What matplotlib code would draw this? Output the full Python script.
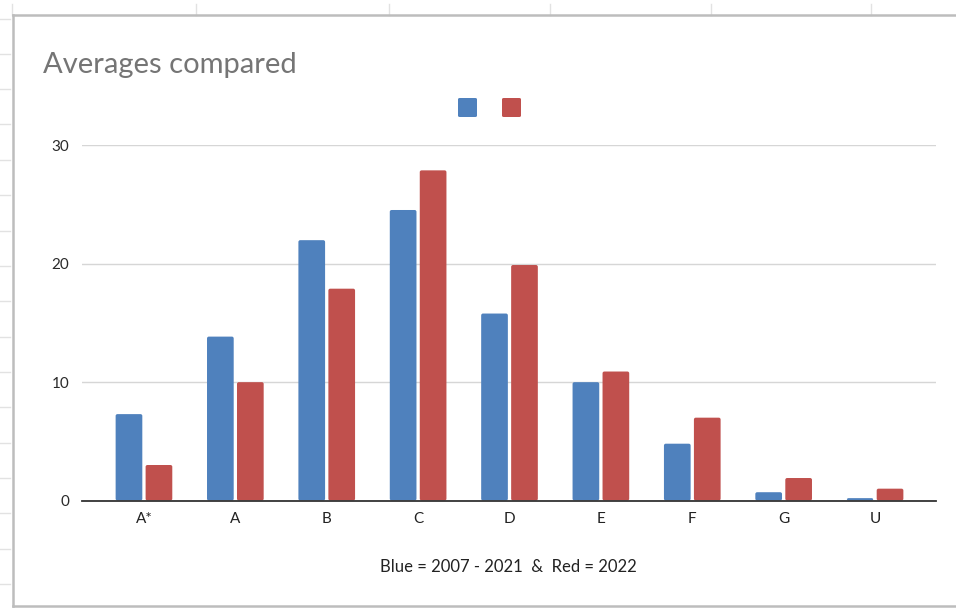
import matplotlib
matplotlib.use("Agg")
import matplotlib.pyplot as plt
from matplotlib.lines import Line2D
from matplotlib.patches import FancyBboxPatch
import numpy as np

# Grade distribution averages
grades = ["A*", "A", "B", "C", "D", "E", "F", "G", "U"]
avg_2007_2021 = [7.3, 13.85, 22.0, 24.55, 15.8, 10.0, 4.8, 0.7, 0.2]
avg_2022 = [3.0, 10.0, 17.9, 27.9, 19.9, 10.9, 7.0, 1.9, 1.0]
y_ticks = [0, 10, 20, 30]

title = "Averages compared"
axis_note = "Blue = 2007 - 2021  &  Red = 2022"

BLUE = "#4F81BD"
RED = "#C0504D"
FONT = ["Lato", "DejaVu Sans"]

W, H = 956, 608
fig = plt.figure(figsize=(W / 100, H / 100), dpi=100)
fig.patch.set_facecolor("white")


def px(x, y):
    """Figure pixel (from top-left) to figure fraction."""
    return x / W, 1 - y / H


# Spreadsheet cell grid behind the embedded chart
grid_col = "#e2e2e2"
for x in [12, 196, 389, 550, 711, 871]:
    fig.add_artist(Line2D([x / W, x / W], [1 - 4 / H, 1 - 15 / H],
                          color=grid_col, lw=1.0))
for y in [19, 54, 89, 124, 160, 195, 231, 266, 301, 337, 372, 407,
          443, 478, 513, 549, 584]:
    fig.add_artist(Line2D([0, 10 / W], [1 - y / H, 1 - y / H],
                          color=grid_col, lw=1.0))

# Chart frame
frame_col = "#bdbdbd"
fig.add_artist(Line2D([13 / W, 13 / W], [1 - 15 / H, 1 - 606 / H], color=frame_col, lw=1.8))
fig.add_artist(Line2D([13 / W, 1.0], [1 - 15 / H, 1 - 15 / H], color=frame_col, lw=1.8))
fig.add_artist(Line2D([13 / W, 1.0], [1 - 606 / H, 1 - 606 / H], color=frame_col, lw=1.8))

# Plot area
left, right = 82, 936
top, bottom = 145.5, 500.5
ax = fig.add_axes([left / W, 1 - bottom / H, (right - left) / W, (bottom - top) / H])
ax.set_facecolor("white")

xlim = (-0.678, 8.667)
ylim = (0, 30)
x = np.arange(len(grades))
bw = 0.292
off = 0.164

# Ratio of y data units to x data units per pixel, so corner rounding stays circular
px_per_x = (right - left) / (xlim[1] - xlim[0])
px_per_y = (bottom - top) / (ylim[1] - ylim[0])
corner_aspect = px_per_x / px_per_y


def rounded_bars(ax, xs, heights, color):
    """Bars with slightly rounded corners, placed in data coordinates."""
    for xc, h in zip(xs, heights):
        ax.add_patch(FancyBboxPatch((xc - bw / 2, 0), bw, h,
                                    boxstyle="round,pad=0,rounding_size=0.02",
                                    mutation_aspect=corner_aspect,
                                    facecolor=color, edgecolor="none", zorder=3))


rounded_bars(ax, x - off, avg_2007_2021, BLUE)
rounded_bars(ax, x + off, avg_2022, RED)

ax.set_xlim(*xlim)
ax.set_ylim(*ylim)
ax.set_yticks(y_ticks)
ax.set_yticklabels([str(t) for t in y_ticks], fontfamily=FONT, fontsize=11, color="#2a2a2a")
ax.set_xticks(x)
ax.set_xticklabels(grades, fontfamily=FONT, fontsize=11, color="#222222")
ax.tick_params(axis="y", length=0, pad=9)
ax.tick_params(axis="x", length=0, pad=8)
ax.grid(axis="y", color="#d6d6d6", lw=1.0, zorder=0)
ax.set_axisbelow(True)
for s in ["top", "right", "left"]:
    ax.spines[s].set_visible(False)
ax.spines["bottom"].set_color("#333333")
ax.spines["bottom"].set_linewidth(1.3)
ax.spines["bottom"].set_zorder(4)

# Title
fig.text(43 / W, 1 - 73 / H, title, fontfamily=FONT, fontsize=21,
         color="#757575", ha="left", va="baseline")

# Legend swatches (series carry no names)
for x0, c in [(458, BLUE), (502, RED)]:
    fx, fy = px(x0, 117)
    fig.add_artist(FancyBboxPatch((fx, fy), 19 / W, 19 / H,
                                  boxstyle="round,pad=0,rounding_size=0.002",
                                  transform=fig.transFigure, facecolor=c,
                                  edgecolor="none"))

# Axis note under the categories
fig.text(508 / W, 1 - 567 / H, axis_note, fontfamily=FONT, fontsize=12,
         color="#222222", ha="center", va="center")

fig.savefig("out.png", dpi=100, facecolor="white")
